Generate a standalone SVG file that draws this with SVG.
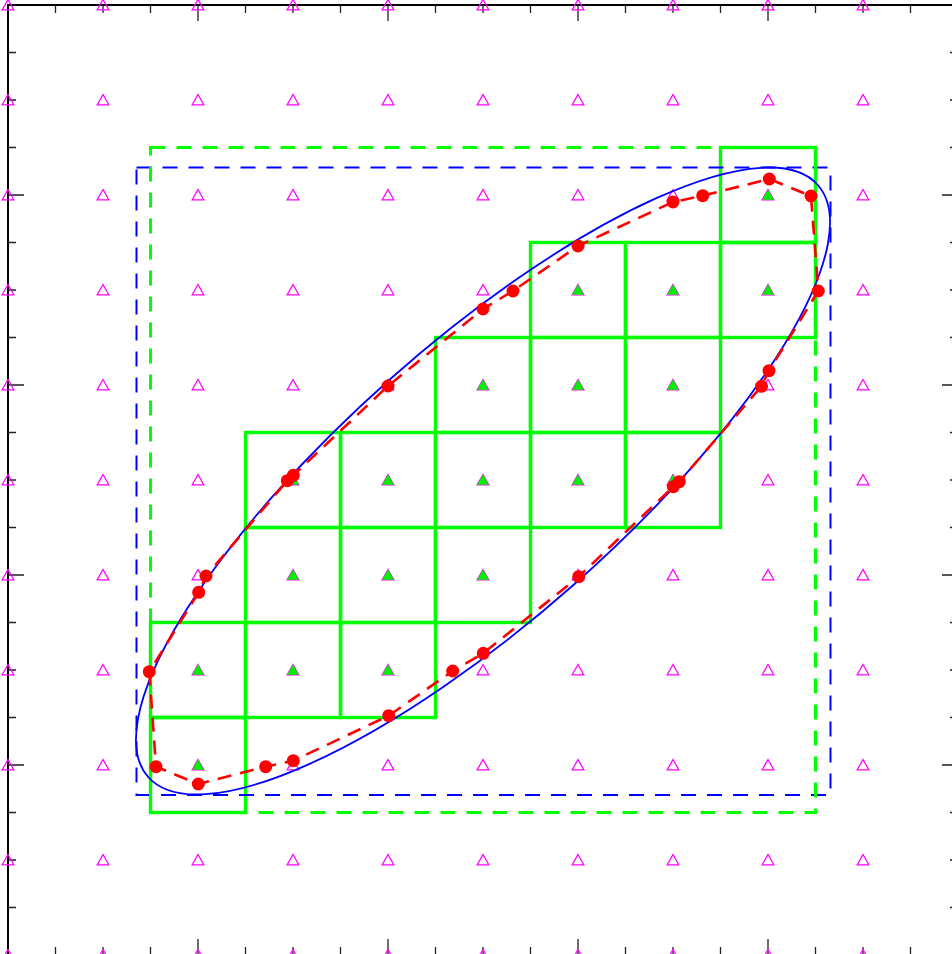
<svg xmlns="http://www.w3.org/2000/svg" xmlns:xlink="http://www.w3.org/1999/xlink" width="952" height="954" viewBox="0 0 952 954">
<style>
.frame{fill:none;stroke:#000;stroke-width:2}
.tick{fill:none;stroke:#222;stroke-width:1.3}
.pt{fill:none;stroke:#ff00ff;stroke-width:1.3}
.gpt{fill:#00ee00;stroke:none}
.cell{fill:none;stroke:#00ff00;stroke-width:3.4;stroke-linejoin:miter}
.gbox{fill:none;stroke:#00ff00;stroke-width:3;stroke-dasharray:15 11}
.bbox{fill:none;stroke:#0000ff;stroke-width:2;stroke-dasharray:15 11}
.ell{fill:none;stroke:#0000ff;stroke-width:1.8}
.poly{fill:none;stroke:#ff0000;stroke-width:2.6;stroke-dasharray:14 9}
.dot{fill:#ff0000;stroke:none}
</style>
<defs>
<path id="t" d="M0,-5.5 L5.8,4.8 L-5.8,4.8 Z"/>
</defs>
<rect x="0" y="0" width="952" height="954" fill="#fff"/>
<g id="axes">
<path class="frame" d="M8 955V5H958"/>
<path class="tick" d="M55.5 5v8M103 5v8M150.5 5v8M198 5v16M245.5 5v8M293 5v8M340.5 5v8M388 5v16M435.5 5v8M483 5v8M530.5 5v8M578 5v16M625.5 5v8M673 5v8M720.5 5v8M768 5v16M815.5 5v8M863 5v8M910.5 5v8"/>
<path class="tick" d="M55.5 955v-8M103 955v-8M150.5 955v-8M198 955v-16M245.5 955v-8M293 955v-8M340.5 955v-8M388 955v-16M435.5 955v-8M483 955v-8M530.5 955v-8M578 955v-16M625.5 955v-8M673 955v-8M720.5 955v-8M768 955v-16M815.5 955v-8M863 955v-8M910.5 955v-8"/>
<path class="tick" d="M8 907.5h8M8 860h8M8 812.5h8M8 765h16M8 717.5h8M8 670h8M8 622.5h8M8 575h16M8 527.5h8M8 480h8M8 432.5h8M8 385h16M8 337.5h8M8 290h8M8 242.5h8M8 195h16M8 147.5h8M8 100h8M8 52.5h8"/>
<path class="tick" d="M958 907.5h-8M958 860h-8M958 812.5h-8M958 765h-16M958 717.5h-8M958 670h-8M958 622.5h-8M958 575h-16M958 527.5h-8M958 480h-8M958 432.5h-8M958 385h-16M958 337.5h-8M958 290h-8M958 242.5h-8M958 195h-16M958 147.5h-8M958 100h-8M958 52.5h-8"/>
</g>
<g id="grid-points" class="pt">
<use href="#t" x="8" y="5"/><use href="#t" x="103" y="5"/><use href="#t" x="198" y="5"/><use href="#t" x="293" y="5"/><use href="#t" x="388" y="5"/><use href="#t" x="483" y="5"/><use href="#t" x="578" y="5"/><use href="#t" x="673" y="5"/><use href="#t" x="768" y="5"/><use href="#t" x="863" y="5"/>
<use href="#t" x="8" y="100"/><use href="#t" x="103" y="100"/><use href="#t" x="198" y="100"/><use href="#t" x="293" y="100"/><use href="#t" x="388" y="100"/><use href="#t" x="483" y="100"/><use href="#t" x="578" y="100"/><use href="#t" x="673" y="100"/><use href="#t" x="768" y="100"/><use href="#t" x="863" y="100"/>
<use href="#t" x="8" y="195"/><use href="#t" x="103" y="195"/><use href="#t" x="198" y="195"/><use href="#t" x="293" y="195"/><use href="#t" x="388" y="195"/><use href="#t" x="483" y="195"/><use href="#t" x="578" y="195"/><use href="#t" x="673" y="195"/><use href="#t" x="768" y="195"/><use href="#t" x="863" y="195"/>
<use href="#t" x="8" y="290"/><use href="#t" x="103" y="290"/><use href="#t" x="198" y="290"/><use href="#t" x="293" y="290"/><use href="#t" x="388" y="290"/><use href="#t" x="483" y="290"/><use href="#t" x="578" y="290"/><use href="#t" x="673" y="290"/><use href="#t" x="768" y="290"/><use href="#t" x="863" y="290"/>
<use href="#t" x="8" y="385"/><use href="#t" x="103" y="385"/><use href="#t" x="198" y="385"/><use href="#t" x="293" y="385"/><use href="#t" x="388" y="385"/><use href="#t" x="483" y="385"/><use href="#t" x="578" y="385"/><use href="#t" x="673" y="385"/><use href="#t" x="768" y="385"/><use href="#t" x="863" y="385"/>
<use href="#t" x="8" y="480"/><use href="#t" x="103" y="480"/><use href="#t" x="198" y="480"/><use href="#t" x="293" y="480"/><use href="#t" x="388" y="480"/><use href="#t" x="483" y="480"/><use href="#t" x="578" y="480"/><use href="#t" x="673" y="480"/><use href="#t" x="768" y="480"/><use href="#t" x="863" y="480"/>
<use href="#t" x="8" y="575"/><use href="#t" x="103" y="575"/><use href="#t" x="198" y="575"/><use href="#t" x="293" y="575"/><use href="#t" x="388" y="575"/><use href="#t" x="483" y="575"/><use href="#t" x="578" y="575"/><use href="#t" x="673" y="575"/><use href="#t" x="768" y="575"/><use href="#t" x="863" y="575"/>
<use href="#t" x="8" y="670"/><use href="#t" x="103" y="670"/><use href="#t" x="198" y="670"/><use href="#t" x="293" y="670"/><use href="#t" x="388" y="670"/><use href="#t" x="483" y="670"/><use href="#t" x="578" y="670"/><use href="#t" x="673" y="670"/><use href="#t" x="768" y="670"/><use href="#t" x="863" y="670"/>
<use href="#t" x="8" y="765"/><use href="#t" x="103" y="765"/><use href="#t" x="198" y="765"/><use href="#t" x="293" y="765"/><use href="#t" x="388" y="765"/><use href="#t" x="483" y="765"/><use href="#t" x="578" y="765"/><use href="#t" x="673" y="765"/><use href="#t" x="768" y="765"/><use href="#t" x="863" y="765"/>
<use href="#t" x="8" y="860"/><use href="#t" x="103" y="860"/><use href="#t" x="198" y="860"/><use href="#t" x="293" y="860"/><use href="#t" x="388" y="860"/><use href="#t" x="483" y="860"/><use href="#t" x="578" y="860"/><use href="#t" x="673" y="860"/><use href="#t" x="768" y="860"/><use href="#t" x="863" y="860"/>
<use href="#t" x="8" y="955"/><use href="#t" x="103" y="955"/><use href="#t" x="198" y="955"/><use href="#t" x="293" y="955"/><use href="#t" x="388" y="955"/><use href="#t" x="483" y="955"/><use href="#t" x="578" y="955"/><use href="#t" x="673" y="955"/><use href="#t" x="768" y="955"/><use href="#t" x="863" y="955"/>
</g>
<g id="inside-points" class="gpt">
<use href="#t" x="198" y="765"/>
<use href="#t" x="198" y="670"/><use href="#t" x="293" y="670"/><use href="#t" x="388" y="670"/>
<use href="#t" x="293" y="575"/><use href="#t" x="388" y="575"/><use href="#t" x="483" y="575"/>
<use href="#t" x="293" y="480"/><use href="#t" x="388" y="480"/><use href="#t" x="483" y="480"/><use href="#t" x="578" y="480"/><use href="#t" x="673" y="480"/>
<use href="#t" x="483" y="385"/><use href="#t" x="578" y="385"/><use href="#t" x="673" y="385"/>
<use href="#t" x="578" y="290"/><use href="#t" x="673" y="290"/><use href="#t" x="768" y="290"/>
<use href="#t" x="768" y="195"/>
</g>
<g id="cells" class="cell">
<rect x="150.5" y="717.5" width="95" height="95"/>
<rect x="150.5" y="622.5" width="95" height="95"/>
<rect x="245.5" y="622.5" width="95" height="95"/>
<rect x="340.5" y="622.5" width="95" height="95"/>
<rect x="245.5" y="527.5" width="95" height="95"/>
<rect x="340.5" y="527.5" width="95" height="95"/>
<rect x="435.5" y="527.5" width="95" height="95"/>
<rect x="245.5" y="432.5" width="95" height="95"/>
<rect x="340.5" y="432.5" width="95" height="95"/>
<rect x="435.5" y="432.5" width="95" height="95"/>
<rect x="530.5" y="432.5" width="95" height="95"/>
<rect x="625.5" y="432.5" width="95" height="95"/>
<rect x="435.5" y="337.5" width="95" height="95"/>
<rect x="530.5" y="337.5" width="95" height="95"/>
<rect x="625.5" y="337.5" width="95" height="95"/>
<rect x="530.5" y="242.5" width="95" height="95"/>
<rect x="625.5" y="242.5" width="95" height="95"/>
<rect x="720.5" y="242.5" width="95" height="95"/>
<rect x="720.5" y="147.5" width="95" height="95"/>
</g>
<g id="ellipse-box">
<rect class="bbox" x="136.5" y="167.5" width="694" height="627.5"/>
</g>
<g id="cell-box">
<rect class="gbox" x="150.5" y="147.5" width="665" height="665"/>
</g>
<g id="ellipse">
<ellipse class="ell" cx="483" cy="481" rx="446.9" ry="137.8" transform="rotate(-41.48 483 481)"/>
</g>
<g id="connectors">
<polygon class="poly" points="149.3,671.7 156,766.7 198.3,784 265.7,766.7 293.3,760.7 388.7,715.7 452.7,671 483.3,653.3 578.7,576.7 673.3,486.7 679.3,481.7 761.5,386.3 769,370.7 818.3,291 811,196 769.3,179 702.7,195.7 673,202 578,246 513,291 483,309 388,386 293.3,475.3 287.3,480.7 206,576 198.7,592.3"/>
</g>
<g id="samples" class="dot">
<circle cx="149.3" cy="671.7" r="6.5"/><circle cx="156" cy="766.7" r="6.5"/><circle cx="198.3" cy="784" r="6.5"/><circle cx="265.7" cy="766.7" r="6.5"/><circle cx="293.3" cy="760.7" r="6.5"/><circle cx="388.7" cy="715.7" r="6.5"/><circle cx="452.7" cy="671" r="6.5"/><circle cx="483.3" cy="653.3" r="6.5"/><circle cx="578.7" cy="576.7" r="6.5"/><circle cx="673.3" cy="486.7" r="6.5"/><circle cx="679.3" cy="481.7" r="6.5"/><circle cx="761.5" cy="386.3" r="6.5"/><circle cx="769" cy="370.7" r="6.5"/><circle cx="818.3" cy="291" r="6.5"/><circle cx="811" cy="196" r="6.5"/><circle cx="769.3" cy="179" r="6.5"/><circle cx="702.7" cy="195.7" r="6.5"/><circle cx="673" cy="202" r="6.5"/><circle cx="578" cy="246" r="6.5"/><circle cx="513" cy="291" r="6.5"/><circle cx="483" cy="309" r="6.5"/><circle cx="388" cy="386" r="6.5"/><circle cx="293.3" cy="475.3" r="6.5"/><circle cx="287.3" cy="480.7" r="6.5"/><circle cx="206" cy="576" r="6.5"/><circle cx="198.7" cy="592.3" r="6.5"/>
</g>
</svg>
